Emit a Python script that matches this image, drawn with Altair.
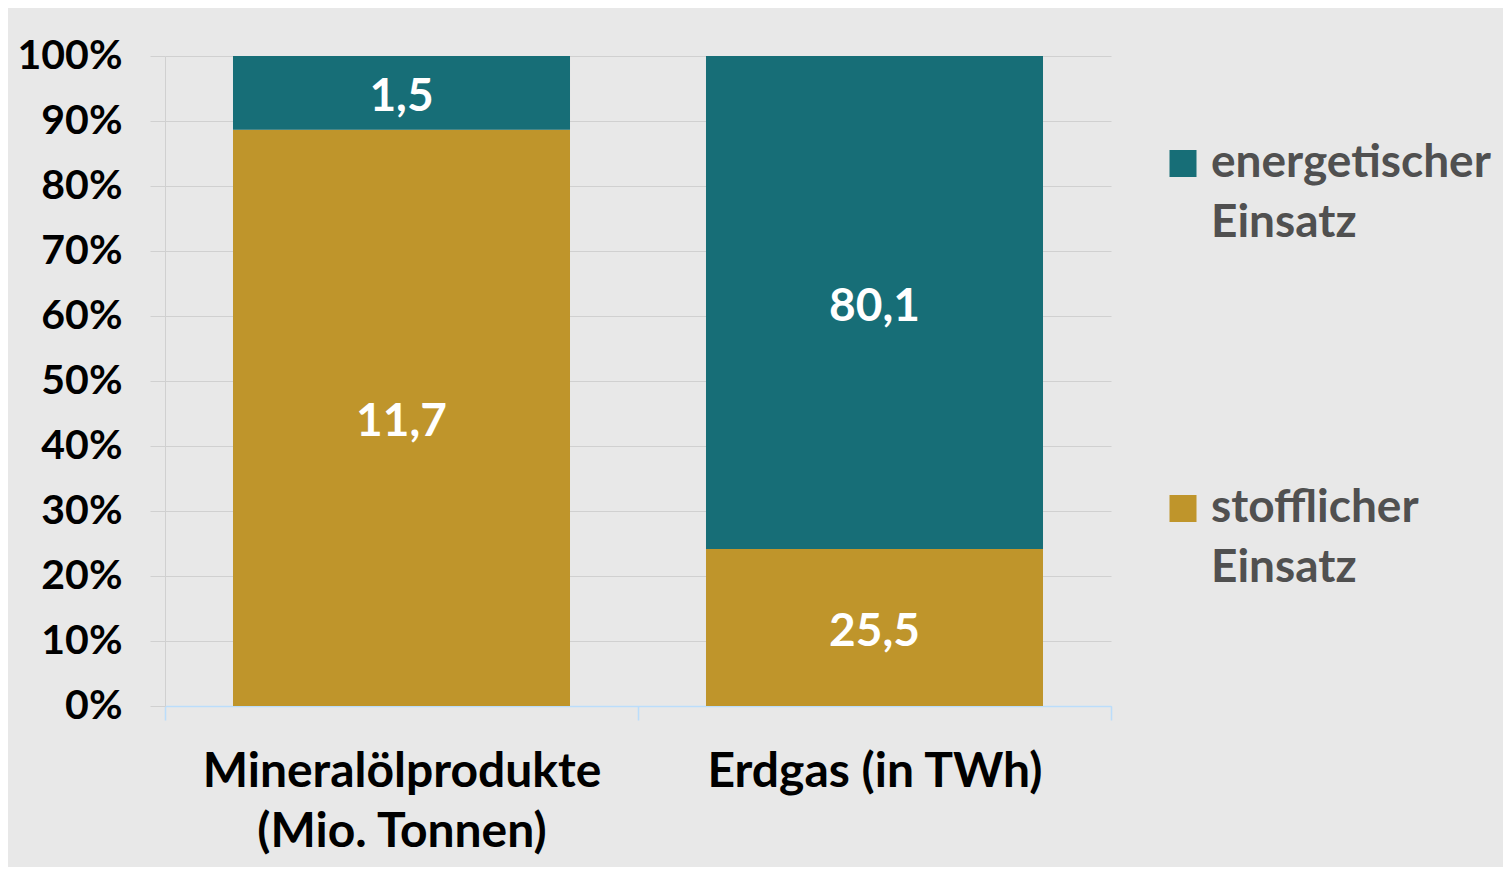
import altair as alt
import pandas as pd

categories = ["Mineralölprodukte|(Mio. Tonnen)", "Erdgas (in TWh)"]
series = ["stofflicher Einsatz", "energetischer Einsatz"]
stofflich = [11.7, 25.5]
energetisch = [1.5, 80.1]
colors = ["#BF952B", "#176E77"]

rows = []
for i, c in enumerate(categories):
    rows.append({"cat": c, "series": series[0], "value": stofflich[i], "order": 0})
    rows.append({"cat": c, "series": series[1], "value": energetisch[i], "order": 1})
df = pd.DataFrame(rows)

FONT = "Lato"

base = alt.Chart(df).transform_joinaggregate(
    total="sum(value)", groupby=["cat"]
).transform_calculate(
    frac="datum.value / datum.total"
).transform_stack(
    stack="frac", groupby=["cat"], sort=[alt.SortField("order", order="ascending")], as_=["y0", "y1"]
).transform_calculate(
    mid="(datum.y0 + datum.y1) / 2",
    lbl="replace(format(datum.value, '.1f'), '.', ',')",
)

xenc = alt.X(
    "cat:N",
    sort=categories,
    title=None,
    scale=alt.Scale(paddingInner=0, paddingOuter=0),
    axis=alt.Axis(
        labelExpr="split(datum.label, '|')",
        labelAngle=0,
        labelFont=FONT,
        labelFontSize=48,
        labelFontWeight="bold",
        labelColor="#000000",
        labelLineHeight=60,
        labelPadding=28,
        labelBaseline="top",
        labelLimit=700,
        domainColor="#BBDDFB",
        domainWidth=1.5,
        tickColor="#BBDDFB",
        tickWidth=1.5,
        tickSize=14,
        tickBand="extent",
        grid=False,
    ),
)

bars = base.mark_bar(width={"band": 0.7125}).encode(
    x=xenc,
    y=alt.Y(
        "y0:Q",
        title=None,
        scale=alt.Scale(domain=[0, 1], nice=False),
        axis=alt.Axis(
            format=".0%",
            values=[i / 10 for i in range(11)],
            labelFont=FONT,
            labelFontSize=41,
            labelFontWeight="bold",
            labelColor="#000000",
            labelPadding=28,
            tickSize=15,
            tickColor="#D0D0D0",
            gridColor="#D0D0D0",
            domainColor="#D0D0D0",
        ),
    ),
    y2="y1:Q",
    color=alt.Color(
        "series:N",
        scale=alt.Scale(domain=[series[1], series[0]], range=[colors[1], colors[0]]),
        legend=alt.Legend(
            title=None,
            orient="none",
            legendX=995,
            legendY=98,
            symbolType="M-1,-2H1V0H-1Z",
            symbolSize=729,
            symbolStrokeWidth=0,
            symbolOpacity=1,
            labelFont=FONT,
            labelFontSize=46,
            labelFontWeight="bold",
            labelColor="#505050",
            labelExpr="split(datum.label, ' ')",
            labelBaseline="alphabetic",
            labelOffset=5,
            rowPadding=239,
            labelLimit=400,
            padding=0,
        ),
    ),
)

text = base.mark_text(
    font=FONT, fontSize=46, fontWeight="bold", color="white", baseline="middle", dy=4
).encode(
    x=alt.X("cat:N", sort=categories),
    y=alt.Y("mid:Q"),
    text="lbl:N",
)

chart = alt.layer(bars, text).properties(
    width=946,
    height=650,
    background="#E8E8E8",
    padding={"left": 157, "top": 48, "right": 392, "bottom": 161},
    autosize=alt.AutoSizeParams(type="none"),
).configure(style={"guide-label": {"lineHeight": 60}}).configure_view(strokeWidth=0)

chart.save("out.html", embed_options={"renderer": "svg", "actions": False})
